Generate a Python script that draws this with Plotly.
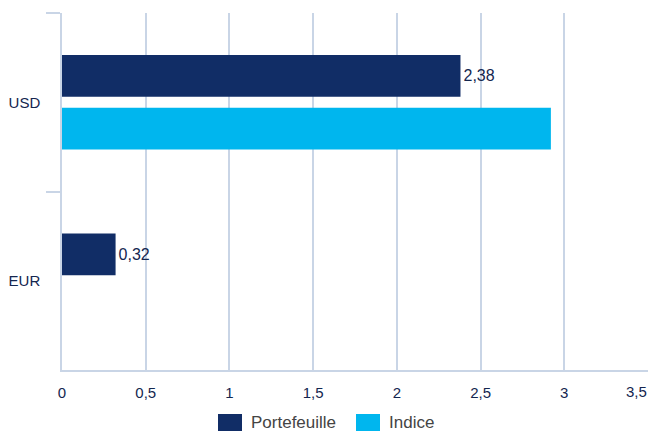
import plotly.graph_objects as go

categories = ["USD", "EUR"]
portefeuille = [2.38, 0.32]
indice = [2.92, None]
series_names = ["Portefeuille", "Indice"]
tick_vals = [0, 0.5, 1, 1.5, 2, 2.5, 3, 3.5]
tick_text = ["0", "0,5", "1", "1,5", "2", "2,5", "3", ""]

NAVY = "#112d66"
CYAN = "#00b6ee"
TEXT = "#14264f"
GRID = "#c9d5e6"
FONT = "Liberation Sans, Arial, Helvetica, sans-serif"

def fmt(v):
    return f"{v:.2f}".replace(".", ",")

fig = go.Figure()
fig.add_trace(go.Bar(
    y=categories, x=portefeuille, orientation="h", name=series_names[0],
    marker=dict(color=NAVY, line=dict(width=0)),
    text=[fmt(v) for v in portefeuille], textposition="outside",
    textfont=dict(color=TEXT, size=16, family=FONT), cliponaxis=False,
    showlegend=False,
))
fig.add_trace(go.Bar(
    y=categories, x=indice, orientation="h", name=series_names[1],
    marker=dict(color=CYAN, line=dict(width=0)),
    showlegend=False,
))

# last tick label, pulled inward so it stays inside the page
fig.add_annotation(x=tick_vals[-1], xref="x", yref="paper", y=0, yshift=-21,
                   xshift=-12, text="3,5", showarrow=False, yanchor="middle",
                   font=dict(size=15, color=TEXT, family=FONT))

# custom legend (swatches + labels)
legend_items = [(series_names[0], NAVY, 218, 242, 249), (series_names[1], CYAN, 356, 380, 387)]
for name, col, x0, x1, xt in legend_items:
    fig.add_shape(type="rect", xref="paper", yref="paper",
                  x0=(x0 - 62) / 586, x1=(x1 - 62) / 586,
                  y0=-(414 - 370) / 357, y1=-(431 - 370) / 357,
                  fillcolor=col, line=dict(width=0))
    fig.add_annotation(xref="paper", yref="paper", x=(xt - 62) / 586, y=-(423 - 370) / 357,
                       text=name, showarrow=False, xanchor="left", yanchor="middle",
                       font=dict(color="#444444", size=17, family=FONT))

fig.update_layout(
    width=650, height=432,
    margin=dict(l=62, r=2, t=13, b=62),
    plot_bgcolor="white", paper_bgcolor="white",
    barmode="group", bargap=0.41, bargroupgap=0.21,
    separators=",.",
    font=dict(family=FONT, color=TEXT, size=15),
    xaxis=dict(range=[0, 3.5], tickvals=tick_vals, ticktext=tick_text,
               showgrid=True, gridcolor=GRID, gridwidth=1.5,
               zeroline=False, showline=True, linecolor=GRID, linewidth=1.5,
               ticks="", ticklabelstandoff=8,
               tickfont=dict(size=15, color=TEXT, family=FONT)),
    yaxis=dict(autorange="reversed", showline=True, linecolor=GRID, linewidth=1.5,
               ticks="outside", ticklen=14, tickcolor=GRID, tickwidth=1.5,
               tickson="boundaries", showgrid=False, ticklabelstandoff=17,
               tickfont=dict(size=15, color=TEXT, family=FONT)),
    showlegend=False,
)

fig.write_html("out.html", config={"displayModeBar": False},
               post_script="document.body.style.margin='0';document.body.style.overflow='hidden';")
